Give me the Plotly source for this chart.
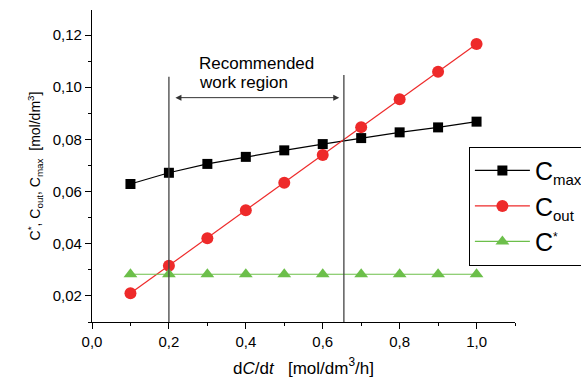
import plotly.graph_objects as go

x_vals = [0.1, 0.2, 0.3, 0.4, 0.5, 0.6, 0.7, 0.8, 0.9, 1.0]
c_max = [0.0629, 0.0672, 0.0706, 0.0733, 0.0758, 0.0782, 0.0805, 0.0827, 0.0846, 0.0868]
c_out = [0.0210, 0.0316, 0.0421, 0.0528, 0.0634, 0.0740, 0.0847, 0.0954, 0.1059, 0.1166]
c_star = [0.0283] * 10

region_left = 0.2
region_right = 0.655
region_top = [0.104, 0.1047]
arrow_y = 0.096

x_ticks = [0.0, 0.2, 0.4, 0.6, 0.8, 1.0]
y_ticks = [0.02, 0.04, 0.06, 0.08, 0.10, 0.12]

FONT = "Liberation Sans, Arial, sans-serif"

def sub(t):
    return f"<sub><span style='font-size:15px'>{t}</span></sub>"

fig = go.Figure()
fig.add_trace(go.Scatter(
    x=x_vals, y=c_max, mode="lines+markers", name="C" + sub("max"),
    line=dict(color="black", width=1.2),
    marker=dict(symbol="square", size=10, color="black"),
))
fig.add_trace(go.Scatter(
    x=x_vals, y=c_out, mode="lines+markers", name="C" + sub("out"),
    line=dict(color="#ee2a2a", width=1.2),
    marker=dict(symbol="circle", size=12, color="#ee2a2a"),
))
fig.add_trace(go.Scatter(
    x=x_vals, y=c_star, mode="lines+markers", name="C<sup><span style='font-size:12px'>*</span></sup>",
    line=dict(color="#6cbf4a", width=1.2),
    marker=dict(symbol="triangle-up", size=12, color="#6cbf4a"),
))

# vertical boundaries of the recommended region
for xv, top in zip([region_left, region_right], region_top):
    fig.add_shape(type="line", x0=xv, x1=xv, y0=0.01, y1=top, xref="x", yref="y",
                  line=dict(color="#444444", width=1.3))

# double-headed arrow
fig.add_annotation(x=0.643, y=arrow_y, ax=0.213, ay=arrow_y, xref="x", yref="y",
                   axref="x", ayref="y", text="", showarrow=True,
                   arrowhead=2, startarrowhead=2, arrowside="end+start",
                   arrowsize=1.2, startarrowsize=1.2, arrowwidth=1, arrowcolor="#333333")
fig.add_annotation(x=0.272, y=0.1136, xref="x", yref="y", text="Recommended",
                   showarrow=False, xanchor="left", yanchor="top",
                   font=dict(family=FONT, size=17, color="black"))
fig.add_annotation(x=0.272, y=0.1064, xref="x", yref="y", text="work region",
                   showarrow=False, xanchor="left", yanchor="top",
                   font=dict(family=FONT, size=17, color="black"))

fig.update_layout(
    width=581, height=381,
    margin=dict(l=92, r=66, t=10, b=59, autoexpand=False),
    paper_bgcolor="white", plot_bgcolor="white",
    separators=", ",
    font=dict(family=FONT, color="black", size=15),
    showlegend=True,
    legend=dict(x=0.891, y=0.562, xanchor="left", yanchor="top",
                bordercolor="black", borderwidth=1, bgcolor="white",
                font=dict(family=FONT, size=25), itemwidth=55,
                tracegroupgap=0),
)
fig.update_xaxes(
    range=[0, 1.1], tickvals=x_ticks, tickformat=".1f",
    showline=True, linecolor="black", linewidth=1.3, mirror=False,
    ticks="outside", ticklen=6, tickwidth=1.3, tickcolor="black",
    minor=dict(dtick=0.1, tick0=0, ticks="outside", ticklen=3, tickwidth=1.2, tickcolor="black", showgrid=False),
    showgrid=False, zeroline=False,
    tickfont=dict(size=15),
    title=dict(text="d<i>C</i>/d<i>t</i>   [mol/dm<sup>3</sup>/h]", font=dict(size=17), standoff=12),
)
fig.update_yaxes(
    range=[0.01, 0.1296], tickvals=y_ticks, tickformat=".2f",
    showline=True, linecolor="black", linewidth=1.3, mirror=False,
    ticks="outside", ticklen=6, tickwidth=1.3, tickcolor="black",
    minor=dict(dtick=0.01, tick0=0.01, ticks="outside", ticklen=3, tickwidth=1.2, tickcolor="black", showgrid=False),
    showgrid=False, zeroline=False,
    tickfont=dict(size=15),
    title=dict(text="C<sup>*</sup>, C<sub>out</sub>, C<sub>max</sub>  [mol/dm<sup>3</sup>]", font=dict(size=14), standoff=8),
)

fig.write_html("out.html")
